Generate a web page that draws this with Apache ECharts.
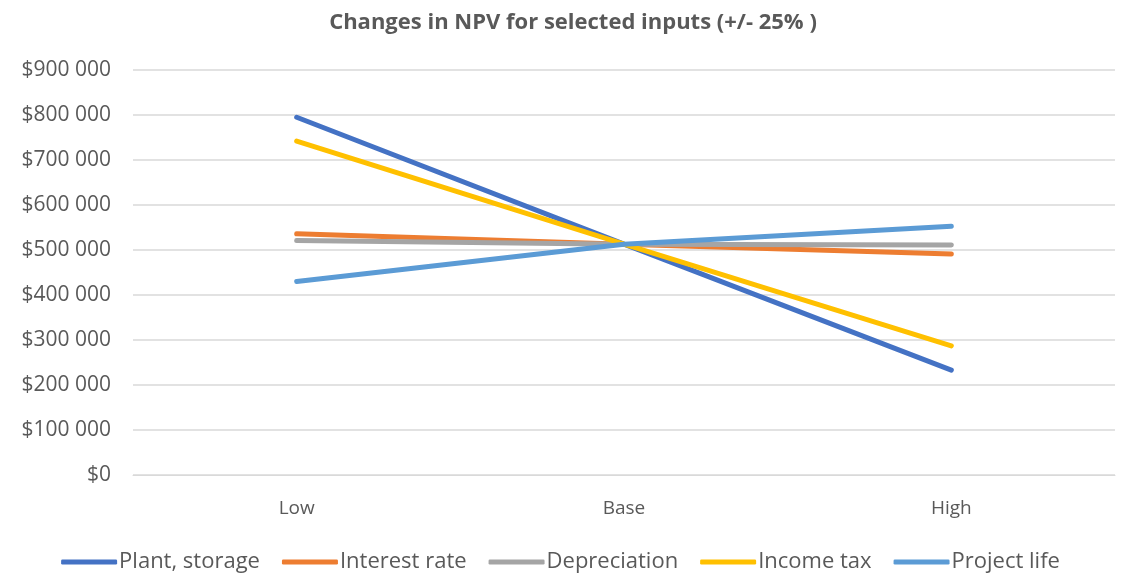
<!DOCTYPE html>
<html>
<head>
<meta charset="utf-8">
<script src="https://cdn.jsdelivr.net/npm/echarts@6/dist/echarts.min.js"></script>
<style>
  html, body { margin: 0; padding: 0; background: #fff; }
  #chart { width: 1121px; height: 576px; }
</style>
</head>
<body>
<div id="chart"></div>
<script>
const categories = ["Low", "Base", "High"];
const plantStorage = [795000, 513000, 233000];
const interestRate = [536000, 513000, 491000];
const depreciation = [521000, 513000, 511000];
const incomeTax = [742000, 513000, 287000];
const projectLife = [430000, 513000, 553000];

const seriesNames = ["Plant, storage", "Interest rate", "Depreciation", "Income tax", "Project life"];
const seriesData = [plantStorage, interestRate, depreciation, incomeTax, projectLife];
const colors = ["#4472c4", "#ed7d31", "#a5a5a5", "#ffc000", "#5b9bd5"];

const font = "'Open Sans', 'Noto Sans', sans-serif";
const chart = echarts.init(document.getElementById("chart"));

function money(v) {
  if (v === 0) return "$0";
  return "$" + String(v / 1000) + " 000";
}

chart.setOption({
  animation: false,
  color: colors,
  title: {
    text: "Changes in NPV for selected inputs (+/- 25% )",
    left: 568,
    textAlign: "center",
    top: 7,
    textStyle: { fontFamily: font, fontSize: 22, fontWeight: "bold", color: "#595959" }
  },
  grid: { left: 133, right: 6, top: 70, bottom: 101 },
  legend: {
    top: 546,
    left: "center",
    itemWidth: 56,
    itemHeight: 5,
    itemGap: 22,
    icon: "roundRect",
    textStyle: { fontFamily: font, fontSize: 22, color: "#595959", padding: [0, 0, 0, -3] },
    data: seriesNames
  },
  xAxis: {
    type: "category",
    data: categories,
    boundaryGap: true,
    axisLine: { lineStyle: { color: "#d9d9d9" } },
    axisTick: { show: false },
    axisLabel: { fontFamily: font, fontSize: 19, color: "#595959", margin: 24 }
  },
  yAxis: {
    type: "value",
    min: 0,
    max: 900000,
    interval: 100000,
    axisLine: { show: false },
    axisTick: { show: false },
    splitLine: { lineStyle: { color: "#d9d9d9", width: 1.5 } },
    axisLabel: { fontFamily: font, fontSize: 21, color: "#595959", margin: 22, formatter: money }
  },
  series: seriesNames.map((name, i) => ({
    name: name,
    type: "line",
    data: seriesData[i],
    symbol: "none",
    lineStyle: { width: 5, cap: "round" }
  }))
});
</script>
</body>
</html>
